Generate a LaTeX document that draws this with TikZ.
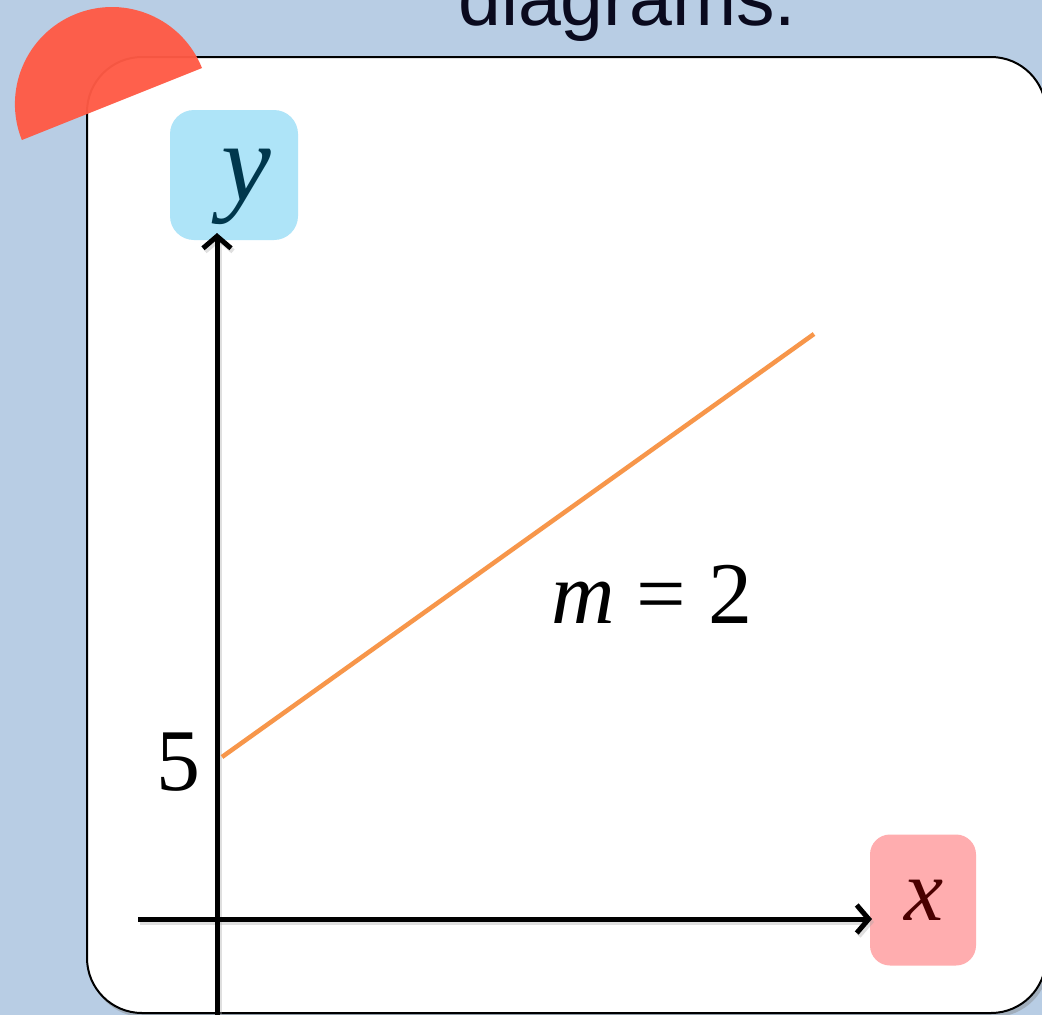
\documentclass[tikz,border=0pt]{standalone}
\usepackage{fontspec}
\setmainfont{Liberation Serif}
\newfontfamily\headfont{Liberation Sans}
\usetikzlibrary{arrows.meta}
\definecolor{bgblue}{HTML}{B8CDE4}
\definecolor{headc}{HTML}{0A0A1E}
\definecolor{semired}{HTML}{FF5A45}
\definecolor{ybox}{HTML}{AEE4F8}
\definecolor{ytext}{HTML}{00374D}
\definecolor{xbox}{HTML}{FFADAF}
\definecolor{xtext}{HTML}{4A0000}
\definecolor{slopec}{HTML}{F7964A}
\tikzset{
  axisline/.style={line width=5pt, black, -{Straight Barb[length=12pt,width=28pt]}},
  axisshadow/.style={line width=5pt, black!35, opacity=0.35, -{Straight Barb[length=12pt,width=28pt]}},
  labelbox/.style={rounded corners=24pt, inner sep=0pt},
  serifbig/.style={font=\fontsize{#1}{#1}\selectfont},
  serifit/.style={font=\fontsize{#1}{#1}\selectfont\itshape}
}
\begin{document}
\begin{tikzpicture}[x=1pt,y=-1pt]
\useasboundingbox (0,0) rectangle (1042,1015);
\fill[bgblue] (0,0) rectangle (1042,1015);
% title
\node[font=\headfont\fontsize{77}{80}\selectfont, text=headc, anchor=base west, inner sep=0pt] (title) at (458,25) {diagrams.};
% panel
\fill[black!50, opacity=0.4, rounded corners=55pt] (89,60) rectangle (1049,1017);
\draw[line width=2pt, fill=white, rounded corners=55pt] (87,57) rectangle (1046,1013);
% label boxes
\node[labelbox, fill=ybox, minimum width=128pt, minimum height=130pt] (ylab) at (234,175) {};
\node[text=ytext, serifit=112, anchor=base, inner sep=0pt] (yletter) at (246,200) {y};
\node[labelbox, rounded corners=20pt, fill=xbox, minimum width=106pt, minimum height=131pt] (xlab) at (923,900) {};
\node[text=xtext, serifit=88, anchor=base, inner sep=0pt] (xletter) at (924,920) {x};
% axes
\coordinate (ybot) at (217,1020);
\coordinate (ytop) at (217,233);
\coordinate (xleft) at (138,919);
\coordinate (xright) at (872,919);
\draw[axisshadow] ([shift={(2,3)}]ybot) -- ([shift={(2,3)}]ytop);
\draw[axisshadow] ([shift={(2,3)}]xleft) -- ([shift={(2,3)}]xright);
\draw[axisline] (ybot) -- (ytop);
\draw[axisline] (xleft) -- (xright);
% slope line
\coordinate (lstart) at (222,757);
\coordinate (lend) at (814,334);
\draw[slopec, line width=4.5pt] (lstart) -- (lend);
% texts
\node[serifbig=88, anchor=base, inner sep=0pt] (five) at (178,790) {5};
\node[serifbig=88, anchor=base, inner sep=0pt] (slope) at (652,623) {\textit{m}\hspace{0.25em}=\hspace{0.25em}2};
% red half disc
\fill[semired, opacity=0.96] (202,68) arc[start angle=-21.8, end angle=-201.8, radius=97] -- cycle;
\end{tikzpicture}
\end{document}
